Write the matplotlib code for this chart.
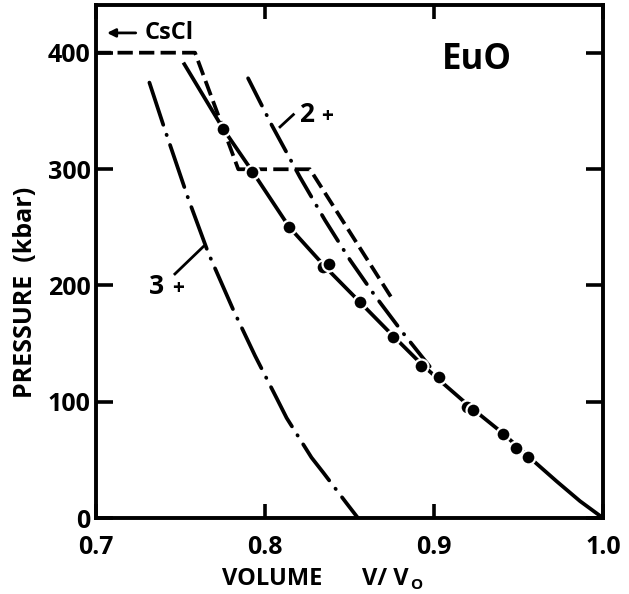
import numpy as np
import matplotlib
matplotlib.use("Agg")
import matplotlib.pyplot as plt

plt.rcParams['font.family'] = ['Open Sans', 'DejaVu Sans']
plt.rcParams['font.weight'] = 'bold'
plt.rcParams['lines.scale_dashes'] = False

# measured curve (solid line through the data points)
main_v = [0.7517, 0.7755, 0.7925, 0.8144, 0.8362, 0.8562, 0.8755, 0.8921,
          0.9028, 0.921, 0.9406, 0.9558, 0.9726, 0.9864, 1.0]
main_p = [391.5, 334, 298, 250, 215, 185.5, 157, 133,
          119, 96, 73, 53, 31.5, 14.5, 0]

# data points
pts_v = [0.7753, 0.7925, 0.8144, 0.8345, 0.8380, 0.8562, 0.8755, 0.8921,
         0.9028, 0.9193, 0.9229, 0.9406, 0.9485, 0.9558]
pts_p = [334.2, 297.8, 249.9, 215.6, 218.4, 186, 156, 130.7,
         121.5, 95.2, 92.9, 72.2, 60.5, 52.7]

# Eu 2+ calculated curve
two_v = [0.790, 0.8039, 0.8207, 0.8355, 0.8503, 0.8651, 0.8809, 0.8976, 0.903]
two_p = [378, 338, 293, 256, 221.8, 191, 160.5, 130, 120]

# Eu 3+ calculated curve
three_v = [0.7316, 0.7408, 0.7546, 0.7664, 0.7812, 0.7941, 0.8069,
           0.8128, 0.8275, 0.8345, 0.8483, 0.855]
three_p = [374.3, 333.6, 274.5, 228, 179, 139.5, 103,
           86, 52, 39, 12.6, 0]

# NaCl -> CsCl transition path (dashed)
cscl_v = [0.7, 0.7586, 0.7842, 0.8266, 0.875]
cscl_p = [400, 400, 299.8, 299.8, 189]

# label leader lines
lead2_v = [0.8089, 0.8168]
lead2_p = [336.2, 346.8]
lead3_v = [0.7467, 0.7635]
lead3_p = [209.8, 233.3]

W, H = 629, 594
fig = plt.figure(figsize=(W / 100, H / 100), dpi=100)
ax = fig.add_axes([96 / W, 1 - 518 / H, (603 - 96) / W, (518 - 5) / H])

lw = 2.7
ax.plot(main_v, main_p, color='black', lw=lw, solid_capstyle='butt', zorder=3)
ax.plot(pts_v, pts_p, 'o', color='black', ms=10, mec='white', mew=1.6, zorder=4)
ax.plot(two_v, two_p, color='black', lw=lw, linestyle=(0, (22, 7.5, 0.3, 7.5)),
        dash_capstyle='round', zorder=2)
ax.plot(three_v, three_p, color='black', lw=lw, linestyle=(0, (32, 7.5, 0.3, 7.5)),
        dash_capstyle='round', zorder=2)
ax.plot(cscl_v, cscl_p, color='black', lw=lw, linestyle=(0, (11, 4.5)), zorder=2)

ax.plot(lead2_v, lead2_p, color='black', lw=2.0)
ax.plot(lead3_v, lead3_p, color='black', lw=2.0)

ax.text(0.8247, 346.5, '2', fontsize=19, ha='center', va='center')
ax.text(0.8365, 345.0, '+', fontsize=15, ha='center', va='center')
ax.text(0.7359, 198.9, '3', fontsize=19, ha='center', va='center')
ax.text(0.7487, 197.5, '+', fontsize=15, ha='center', va='center')
ax.text(0.9254, 394, 'EuO', fontsize=25, ha='center', va='center')
ax.text(0.7435, 417, 'CsCl', fontsize=17, ha='center', va='center')
ax.annotate('', xy=(0.7065, 417), xytext=(0.7235, 417),
            arrowprops=dict(arrowstyle='-|>', color='black', lw=2.0,
                            mutation_scale=12, shrinkA=0, shrinkB=0))

ax.set_xlim(0.7, 1.0)
ax.set_ylim(0, 441)
ax.set_xticks([0.7, 0.8, 0.9, 1.0])
ax.set_xticklabels(['0.7', '0.8', '0.9', '1.0'])
ax.set_yticks([0, 100, 200, 300, 400])
ax.tick_params(direction='in', width=2.6, labelsize=18, top=True, right=True)
ax.tick_params(axis='x', pad=12, length=10)
ax.tick_params(axis='y', pad=4, length=12)
for s in ax.spines.values():
    s.set_linewidth(2.8)

fig.text(26 / W, 1 - 292 / H, 'PRESSURE  (kbar)', rotation=90, fontsize=18,
         ha='center', va='center')
fig.text(222 / W, 1 - 585 / H, 'VOLUME', fontsize=17, ha='left', va='baseline')
fig.text(362 / W, 1 - 585 / H, 'V/ V', fontsize=17, ha='left', va='baseline')
fig.text(410 / W, 1 - 589 / H, 'O', fontsize=11, ha='left', va='baseline')

fig.savefig('out.png', dpi=100)
